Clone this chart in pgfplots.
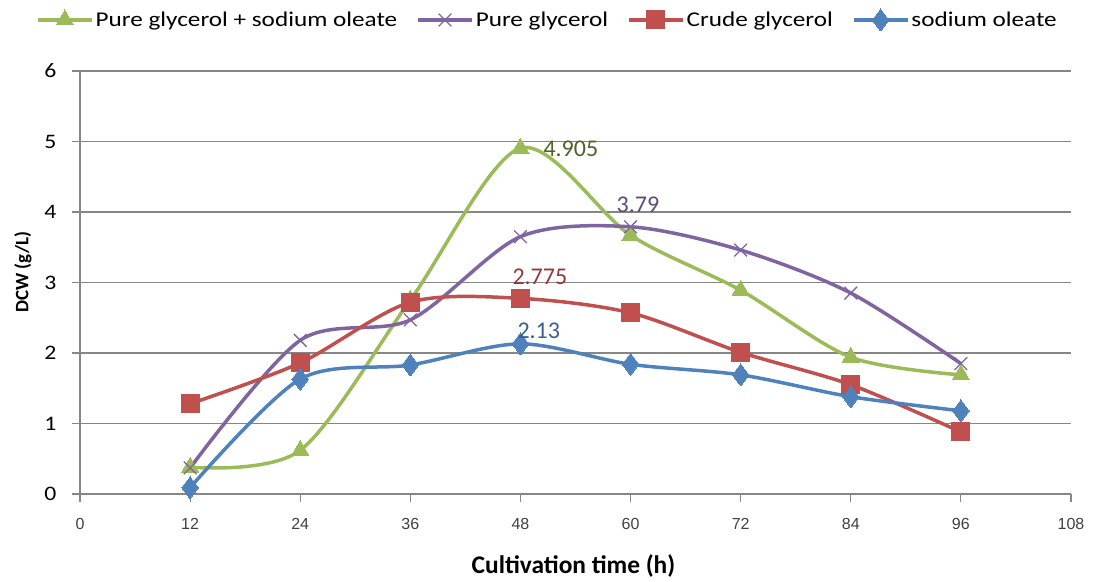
\documentclass[border=0pt]{standalone}
\usepackage{fontspec}
\setmainfont{Carlito}
\newfontfamily\widefont{Carlito}[FakeStretch=1.2]
\newfontfamily\ytfont{Carlito}[FakeStretch=1.15]
\newfontfamily\arialfont{Liberation Sans}
\usepackage{pgfplots}
\pgfplotsset{compat=1.18}
\definecolor{cgreen}{HTML}{9BBB59}
\definecolor{cpurple}{HTML}{8064A2}
\definecolor{cred}{HTML}{C0504D}
\definecolor{cblue}{HTML}{4F81BD}
\definecolor{lgreen}{HTML}{4F6228}
\definecolor{lpurple}{HTML}{5F497A}
\definecolor{lred}{HTML}{953735}
\definecolor{lblue}{HTML}{376092}
\definecolor{gridgray}{HTML}{868686}
\begin{document}
\begin{tikzpicture}[x=1pt,y=1pt]
\useasboundingbox (-80,-87) rectangle (1015,494);
\begin{axis}[
  at={(0,0)}, anchor=south west,
  width=991pt, height=423pt, scale only axis,
  xmin=0, xmax=108, ymin=0, ymax=6,
  xtick={0,12,...,108}, ytick={0,1,...,6},
  ymajorgrids,
  grid style={color=gridgray, line width=1.2pt},
  axis x line*=bottom, axis y line*=left,
  axis line style={gridgray, line width=1.2pt, -},
  tick style={gridgray, line width=1.2pt},
  tick align=outside, major tick length=8pt,
  /pgf/number format/assume math mode=true,
  x tick label style={font=\arialfont\fontsize{16}{16}\selectfont, text=black!75, yshift=-13pt},
  y tick label style={font=\ytfont\fontsize{20.6}{20.6}\selectfont, xshift=-12pt},
  xlabel={Cultivation time (h)},
  ylabel={DCW (g/L)},
  xlabel style={at={(axis description cs:0.498,-0.170)}, anchor=center, font=\fontsize{25.4}{25.4}\selectfont\bfseries},
  ylabel style={at={(axis description cs:-0.0575,0.525)}, anchor=center, font=\fontsize{19}{19}\selectfont\bfseries},
  legend columns=4,
  legend cell align=left,
  legend style={draw=none, fill=none, at={(axis description cs:0.4717,1.1206)}, anchor=center,
    font=\widefont\fontsize{21}{21}\selectfont,
    /tikz/every even column/.append style={column sep=17pt}},
  legend image code/.code={\draw[mark repeat=2, mark phase=2] plot coordinates {(0pt,0pt)(27pt,0pt)(54pt,0pt)};},
  every axis plot/.append style={line width=3.5pt, smooth, tension=0.5},
]
\addplot[cgreen, mark=triangle*, mark size=10pt, mark options={solid, line width=0pt, fill=cgreen}] coordinates {
(12,0.38)(24,0.62)(36,2.75)(48,4.905)(60,3.67)(72,2.89)(84,1.94)(96,1.69)};
\addlegendentry{Pure glycerol + sodium oleate}
\addplot[cpurple, mark=x, mark size=9pt, mark options={solid, line width=1.3pt}] coordinates {
(12,0.37)(24,2.18)(36,2.47)(48,3.65)(60,3.79)(72,3.46)(84,2.85)(96,1.85)};
\addlegendentry{Pure glycerol}
\addplot[cred, mark=square*, mark size=9pt, mark options={solid, line width=0pt, fill=cred}] coordinates {
(12,1.28)(24,1.86)(36,2.72)(48,2.775)(60,2.57)(72,2.01)(84,1.55)(96,0.88)};
\addlegendentry{Crude glycerol}
\addplot[cblue, mark=diamond*, mark size=11pt, mark options={solid, line width=0pt, fill=cblue}] coordinates {
(12,0.09)(24,1.63)(36,1.83)(48,2.13)(60,1.84)(72,1.69)(84,1.38)(96,1.18)};
\addlegendentry{sodium oleate}
% data labels
\addplot[forget plot, draw=none, mark=none, nodes near coords={4.905},
  nodes near coords style={anchor=west, xshift=18pt, yshift=-1pt, text=lgreen, font=\fontsize{24}{24}\selectfont}] coordinates {(48,4.905)};
\addplot[forget plot, draw=none, mark=none, nodes near coords={3.79},
  nodes near coords style={anchor=south west, xshift=-19pt, yshift=9pt, text=lpurple, font=\fontsize{24}{24}\selectfont}] coordinates {(60,3.79)};
\addplot[forget plot, draw=none, mark=none, nodes near coords={2.775},
  nodes near coords style={anchor=south west, xshift=-13pt, yshift=9pt, text=lred, font=\fontsize{24}{24}\selectfont}] coordinates {(48,2.775)};
\addplot[forget plot, draw=none, mark=none, nodes near coords={2.13},
  nodes near coords style={anchor=south west, xshift=-8pt, yshift=0pt, text=lblue, font=\fontsize{24}{24}\selectfont}] coordinates {(48,2.13)};
\end{axis}
\end{tikzpicture}
\end{document}
